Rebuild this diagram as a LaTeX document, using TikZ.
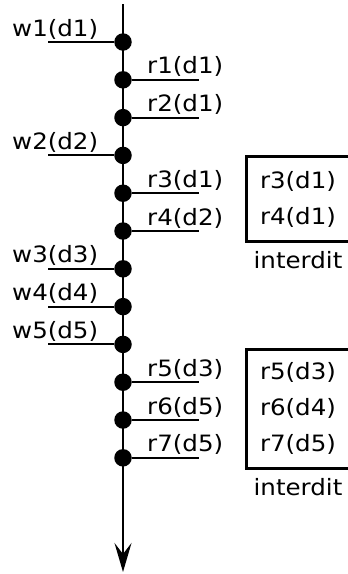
\documentclass[tikz,border=0pt]{standalone}
\usepackage{fontspec}
\setmainfont{DejaVu Sans}[FakeStretch=1.09]
\usetikzlibrary{arrows.meta, positioning}
\tikzstyle{dot} = [
  circle,
  minimum size=17.5pt,
  inner sep=0pt,
  outer sep=0pt,
  fill=black
]
\tikzstyle{tick} = [line width=2pt]
\tikzstyle{axis} = [line width=2pt, -{Stealth[length=29pt, width=17pt, inset=11pt]}]
\tikzstyle{evlabel} = [anchor=base west, inner sep=0pt]
\tikzstyle{banned} = [
  rectangle,
  draw=black,
  line width=3pt,
  minimum width=104pt,
  align=center,
  label={[label distance=8.5pt, inner sep=0pt]below:interdit}
]

\begin{document}
\begin{tikzpicture}[x=1pt, y=-1pt, node distance=37.8pt, font=\fontsize{22.5pt}{36pt}\selectfont]
    \useasboundingbox (0,0) rectangle (348,574);
    \coordinate (top) at (123,4);
    \coordinate (bottom) at (123,572);
    \draw [axis] (top) -- (bottom);

    % events on the time line
    \node (w1) [dot] at (123,42) {};
    \node (r1) [dot, below of=w1] {};
    \node (r2) [dot, below of=r1] {};
    \node (w2) [dot, below of=r2] {};
    \node (r3) [dot, below of=w2] {};
    \node (r4) [dot, below of=r3] {};
    \node (w3) [dot, below of=r4] {};
    \node (w4) [dot, below of=w3] {};
    \node (w5) [dot, below of=w4] {};
    \node (r5) [dot, below of=w5] {};
    \node (r6) [dot, below of=r5] {};
    \node (r7) [dot, below of=r6] {};

    % writes go left, reads go right
    \coordinate [left=66.25pt of w1] (w1-tail);
    \coordinate [right=67.25pt of r1] (r1-tail);
    \coordinate [right=67.25pt of r2] (r2-tail);
    \coordinate [left=66.25pt of w2] (w2-tail);
    \coordinate [right=67.25pt of r3] (r3-tail);
    \coordinate [right=67.25pt of r4] (r4-tail);
    \coordinate [left=66.25pt of w3] (w3-tail);
    \coordinate [left=66.25pt of w4] (w4-tail);
    \coordinate [left=66.25pt of w5] (w5-tail);
    \coordinate [right=67.25pt of r5] (r5-tail);
    \coordinate [right=67.25pt of r6] (r6-tail);
    \coordinate [right=67.25pt of r7] (r7-tail);

    \node (w1-label) [evlabel] at ([shift={(-111,-6)}]w1) {w1(d1)};
    \node (r1-label) [evlabel] at ([shift={(24,-6)}]r1) {r1(d1)};
    \node (r2-label) [evlabel] at ([shift={(24,-6)}]r2) {r2(d1)};
    \node (w2-label) [evlabel] at ([shift={(-111,-6)}]w2) {w2(d2)};
    \node (r3-label) [evlabel] at ([shift={(24,-6)}]r3) {r3(d1)};
    \node (r4-label) [evlabel] at ([shift={(24,-6)}]r4) {r4(d2)};
    \node (w3-label) [evlabel] at ([shift={(-111,-6)}]w3) {w3(d3)};
    \node (w4-label) [evlabel] at ([shift={(-111,-6)}]w4) {w4(d4)};
    \node (w5-label) [evlabel] at ([shift={(-111,-6)}]w5) {w5(d5)};
    \node (r5-label) [evlabel] at ([shift={(24,-6)}]r5) {r5(d3)};
    \node (r6-label) [evlabel] at ([shift={(24,-6)}]r6) {r6(d5)};
    \node (r7-label) [evlabel] at ([shift={(24,-6)}]r7) {r7(d5)};

    \draw [tick] (w1) -- (w1-tail);
    \draw [tick] (r1) -- (r1-tail);
    \draw [tick] (r2) -- (r2-tail);
    \draw [tick] (w2) -- (w2-tail);
    \draw [tick] (r3) -- (r3-tail);
    \draw [tick] (r4) -- (r4-tail);
    \draw [tick] (w3) -- (w3-tail);
    \draw [tick] (w4) -- (w4-tail);
    \draw [tick] (w5) -- (w5-tail);
    \draw [tick] (r5) -- (r5-tail);
    \draw [tick] (r6) -- (r6-tail);
    \draw [tick] (r7) -- (r7-tail);

    % forbidden reads
    \node (ban1) [banned, minimum height=84.5pt] at (298,199) {r3(d1)\\r4(d1)};
    \node (ban2) [banned, minimum height=119pt] at (298,408.5) {r5(d3)\\r6(d4)\\r7(d5)};
\end{tikzpicture}
\end{document}
